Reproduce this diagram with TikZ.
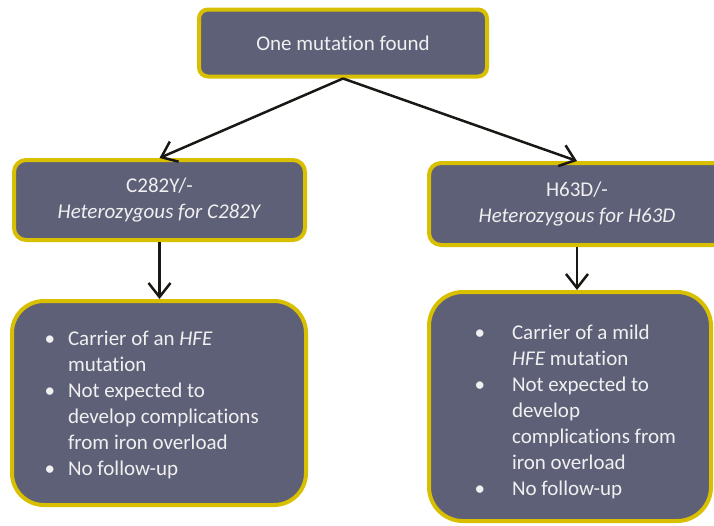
\documentclass[tikz,border=0pt]{standalone}
\usepackage{fontspec}
\setmainfont[Ligatures=NoCommon]{Carlito}
\usepackage{tikz}
\usetikzlibrary{arrows.meta}

\definecolor{boxfill}{RGB}{94,96,120}
\definecolor{boxline}{RGB}{216,191,0}
\definecolor{arrline}{RGB}{26,24,20}

\begin{document}
\begin{tikzpicture}[x=1pt, y=-1pt,
   box/.style={draw=boxline, fill=boxfill, line width=4pt, outer sep=2pt,
      text=white!94!black, align=center, font=\fontsize{21}{26}\selectfont},
   arr/.style={draw=arrline, line width=2.5pt,
      -{Straight Barb[length=14pt, width=22pt, line width=2.5pt]}}]

   \useasboundingbox (0,0) rectangle (714,525);

   \node[box, rounded corners=9pt, minimum width=288pt, minimum height=67pt] (found) at (343,43) {One mutation found};

   \node[box, rounded corners=12pt, minimum width=291pt, minimum height=80pt] (cys) at (159.5,200) {C282Y/-\\\textit{Heterozygous for C282Y}};
   \node[box, rounded corners=12pt, minimum width=296pt, minimum height=82pt] (hsd) at (577,204) {H63D/-\\\textit{Heterozygous for H63D}};

   \node[box, rounded corners=32pt, minimum width=294pt, minimum height=204pt] (cysinfo) at (159,403) {};
   \node[box, rounded corners=34pt, minimum width=282pt, minimum height=229pt] (hsdinfo) at (570,406.5) {};

   % bullet lists
   \node[anchor=west, text=white!94!black, font=\fontsize{21}{26}\selectfont] (cystext) at (41,405) {%
      \begin{tabular}{@{}p{23.5pt}@{}l@{}}
      \textbullet & Carrier of an \textit{HFE}\\
                  & mutation\\
      \textbullet & Not expected to\\
                  & develop complications\\
                  & from iron overload\\
      \textbullet & No follow-up
      \end{tabular}};
   \node[anchor=west, text=white!94!black, font=\fontsize{21}{26}\selectfont] (hsdtext) at (471,412) {%
      \begin{tabular}{@{}p{37.5pt}@{}l@{}}
      \textbullet & Carrier of a mild\\
                  & \textit{HFE} mutation\\
      \textbullet & Not expected to\\
                  & develop\\
                  & complications from\\
                  & iron overload\\
      \textbullet & No follow-up
      \end{tabular}};

   \draw[arr] (found.south) -- (cys.north);
   \draw[arr] (found.south) -- (hsd.north);
   \draw[arr] (cys.south) -- (cys.south |- cysinfo.north);
   \draw[arr] (hsd.south) -- (hsd.south |- hsdinfo.north);

\end{tikzpicture}
\end{document}
